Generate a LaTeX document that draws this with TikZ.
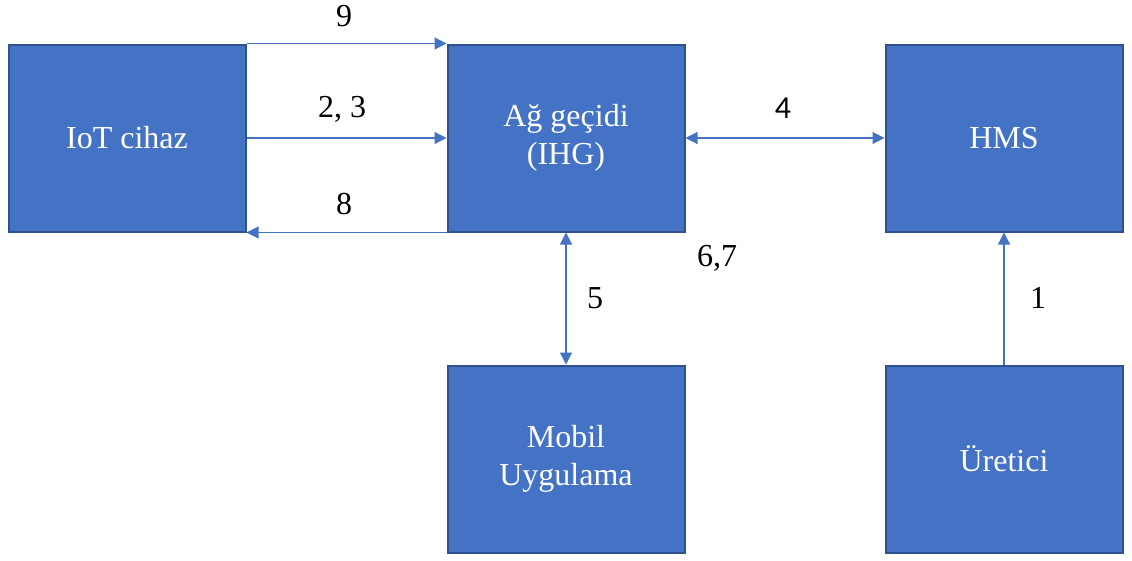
\documentclass[tikz,border=0pt]{standalone}
\usepackage{fontspec}
\setmainfont{Liberation Serif}
\newfontfamily\calfont{Carlito}
\usetikzlibrary{arrows.meta}
\definecolor{boxfill}{HTML}{4472C4}
\definecolor{boxline}{HTML}{2F528F}
\definecolor{arrowcol}{HTML}{4472C4}
\begin{document}
\begin{tikzpicture}[x=1pt,y=-1pt,
  blockbox/.style={rectangle,draw=boxline,fill=boxfill,line width=2pt,
    minimum width=237pt,minimum height=187pt,inner sep=0pt,
    text=white,align=center,font=\fontsize{32}{38}\selectfont},
  lbl/.style={inner sep=0pt,text=black,font=\fontsize{32}{38}\selectfont},
  conn/.style={draw=arrowcol,line width=1.1pt,
    arrows={-Triangle[length=12pt,width=12pt]}},
  dconn/.style={draw=arrowcol,line width=1.1pt,
    arrows={Triangle[length=12pt,width=12pt]-Triangle[length=12pt,width=12pt]}}
]
\useasboundingbox (0,0) rectangle (1132,560);
\node[blockbox] (iot) at (127,138) {IoT cihaz};
\node[blockbox] (ag) at (566,138) {Ağ geçidi\\(IHG)};
\node[blockbox] (hms) at (1004,138) {HMS};
\node[blockbox] (mob) at (566,459) {Mobil\\Uygulama};
\node[blockbox] (ure) at (1004,459) {Üretici};

\draw[conn] (iot.north east) -- (ag.north west);
\draw[conn] (iot.east) -- (ag.west);
\draw[conn] (ag.south west) -- (iot.south east);
\draw[dconn] (ag.east) -- (hms.west);
\draw[dconn] (ag.south) -- (mob.north);
\draw[conn] (ure.north) -- (hms.south);

\node[lbl] (l9) at (344,16) {9};
\node[lbl] (l23) at (342,109) {2, 3};
\node[lbl] (l8) at (344,204) {8};
\node[lbl,font=\calfont\fontsize{32}{38}\selectfont] (l4) at (783,108) {4};
\node[lbl] (l5) at (595,298) {5};
\node[lbl] (l67) at (717,258) {6,7};
\node[lbl] (l1) at (1038,298) {1};
\end{tikzpicture}
\end{document}
